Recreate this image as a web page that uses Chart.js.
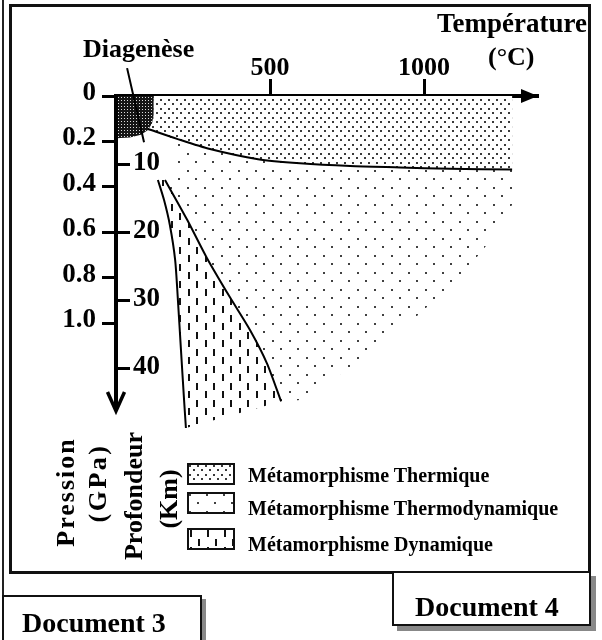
<!DOCTYPE html>
<html><head><meta charset="utf-8">
<script src="https://cdn.jsdelivr.net/npm/chart.js@4.4.1/dist/chart.umd.min.js"></script>
<style>
html,body{margin:0;padding:0;background:#fff;}
#wrap{position:relative;width:602px;height:640px;overflow:hidden;font-family:'Liberation Serif','Times New Roman',serif;font-weight:bold;color:#000;}
#c{position:absolute;left:0;top:0;}
.t{position:absolute;white-space:nowrap;line-height:1;}
.rot{position:absolute;white-space:nowrap;line-height:1;font-size:26px;transform:translate(-50%,-50%) rotate(-90deg);}
.box{position:absolute;box-sizing:border-box;}
canvas.sw{position:absolute;border:2px solid #111;}
</style></head>
<body><div id="wrap">
<canvas id="c" width="602" height="640"></canvas>
<div class="box" style="left:2px;top:0;width:2px;height:596px;background:#222;"></div>
<div class="box" style="left:9px;top:4px;width:582px;height:570px;border:3px solid #111;"></div>

<div class="t" style="left:83px;top:36px;font-size:26px;">Diagenèse</div>
<div class="t" style="left:437px;top:10px;font-size:27px;">Température</div>
<div class="t" style="left:488px;top:44px;font-size:26px;">(°C)</div>

<div class="rot" style="left:66px;top:492px;letter-spacing:2px;">Pression</div>
<div class="rot" style="left:98px;top:483px;letter-spacing:2.5px;">(GPa)</div>
<div class="rot" style="left:134px;top:496px;">Profondeur</div>
<div class="rot" style="left:169px;top:499px;">(Km)</div>

<canvas class="sw" width="44" height="18" style="left:187px;top:463px;"></canvas>
<canvas class="sw" width="44" height="18" style="left:187px;top:492px;"></canvas>
<canvas class="sw" width="44" height="18" style="left:187px;top:528px;"></canvas>
<div class="t lg" style="left:248px;top:465px;font-size:20px;"></div>
<div class="t lg" style="left:248px;top:498px;font-size:20px;"></div>
<div class="t lg" style="left:248px;top:534px;font-size:20px;"></div>

<div class="box" style="left:392px;top:571px;width:199px;height:55px;border:2px solid #111;background:#fff;box-shadow:5px 5px 0 #888;"></div>
<div class="t" style="left:415px;top:593px;font-size:28px;">Document 4</div>
<div class="box" style="left:2px;top:595px;width:200px;height:60px;border:2px solid #111;background:#fff;box-shadow:4px 4px 0 #888;"></div>
<div class="t" style="left:22px;top:609px;font-size:28px;">Document 3</div>
</div>
<script>
// ---- axis ticks ----
const temperatureTicks = [500, 1000];
const pressureTicks = [0, 0.2, 0.4, 0.6, 0.8, 1.0];
const depthTicks = [10, 20, 30, 40];
const legendLabels = ['Métamorphisme Thermique', 'Métamorphisme Thermodynamique', 'Métamorphisme Dynamique'];

// ---- regions: temperature (°C) / depth (km) ----
const diageneseT = [0, 122, 122, 117, 104, 81, 45, 0];
const diageneseD = [0, 0, 2.8, 4.0, 5.0, 5.7, 6.1, 6.2];

// boundary thermal / thermodynamic
const boundaryT = [104, 198, 305, 461, 597, 760, 922, 1084, 1286];
const boundaryD = [4.85, 6.3, 7.8, 9.3, 9.9, 10.3, 10.5, 10.7, 10.8];

// lower-right limit of thermodynamic field
const thermoLimitT = [1286, 1231, 1149, 1042, 981, 873, 760, 662, 597, 539];
const thermoLimitD = [16.0, 20.4, 24.9, 29.7, 32.2, 35.9, 39.9, 42.9, 44.7, 45.0];

// left limit of thermodynamic field (near depth 10)
const thermoEdgeT = [201, 192];
const thermoEdgeD = [10.9, 6.9];

// dynamic field limits
const dynLeftT = [136, 156, 175, 192, 201, 211, 221, 227];
const dynLeftD = [12.35, 15.3, 19.0, 24.1, 30.0, 37.4, 44.7, 48.8];
const dynRightT = [159, 231, 295, 370, 435, 490, 536];
const dynRightD = [12.35, 18.2, 23.8, 29.6, 34.4, 39.3, 44.9];

// thermal field top corners
const thermalTopT = [122, 1286];
const thermalTopD = [0, 0];

// pointer from the "Diagenèse" label
const pointerT = [36, 91];
const pointerD = [-4.1, 6.8];

const axisEndDepth = 46.3;

// ---- helpers ----
const pts = (T, D) => T.map((t, i) => ({x: t, y: D[i]}));
const rev = a => a.slice().reverse();

function makePattern(w, h, draw) {
  const c = document.createElement('canvas');
  c.width = w; c.height = h;
  const g = c.getContext('2d');
  g.fillStyle = '#fff'; g.fillRect(0, 0, w, h);
  draw(g);
  return g.createPattern(c, 'repeat');
}
const pThermal = makePattern(8, 9, g => { g.fillStyle = '#3a3a3a'; g.fillRect(0, 0, 2, 2); g.fillRect(4, 4, 2, 2); });
const pThermo = makePattern(17, 17, g => { g.fillStyle = '#404040'; g.fillRect(0, 0, 2, 2); g.fillRect(8, 8, 2, 2); });
const pDyn = makePattern(17, 17, g => { g.fillStyle = '#111'; g.fillRect(1, 0, 2, 7); g.fillRect(9, 9, 2, 7); });
const pDiag = makePattern(3, 3, g => { g.fillStyle = '#151515'; g.fillRect(0, 0, 3, 3); g.fillStyle = '#ddd'; g.fillRect(1, 1, 1, 1); });

document.querySelectorAll('canvas.sw').forEach((cv, i) => {
  const g = cv.getContext('2d');
  g.fillStyle = [pThermal, pThermo, pDyn][i];
  g.fillRect(0, 0, cv.width, cv.height);
});
document.querySelectorAll('.lg').forEach((el, i) => { el.textContent = legendLabels[i]; });

const thermalPoly = pts(thermalTopT, thermalTopD).concat(rev(pts(boundaryT, boundaryD)), [{x: 122, y: 3.5}]);
const thermoPoly = pts(boundaryT, boundaryD).concat(pts(thermoLimitT, thermoLimitD), rev(pts(dynRightT, dynRightD)), pts(thermoEdgeT, thermoEdgeD));
const dynPoly = pts(dynLeftT, dynLeftD).concat(rev(pts(dynRightT, dynRightD)));
const diagPoly = pts(diageneseT, diageneseD);

const NONE = 'rgba(0,0,0,0)';
const area = (label, data, bg, order, clip) => ({label, data, backgroundColor: bg, borderColor: NONE, borderWidth: 1, fill: 'shape', showLine: true, pointRadius: 0, tension: 0, order, clip: clip ? false : undefined});
const line = (label, data, order) => ({label, data, borderColor: '#000', borderWidth: 2, fill: false, showLine: true, pointRadius: 0, tension: 0.25, order, clip: false});

const FONT = {family: "'Liberation Serif','Times New Roman',serif", weight: 'bold'};

const axisArrows = {
  id: 'axisArrows',
  afterDraw(chart) {
    const {ctx, chartArea: a, scales} = chart;
    const x0 = scales.x.getPixelForValue(0);
    const y0 = scales.yD.getPixelForValue(0);
    const yEnd = scales.yD.getPixelForValue(axisEndDepth);
    ctx.save();
    ctx.strokeStyle = '#000'; ctx.fillStyle = '#000';
    ctx.lineWidth = 4;
    ctx.beginPath(); ctx.moveTo(x0, y0 - 2); ctx.lineTo(x0, yEnd); ctx.stroke();
    ctx.lineWidth = 3.5;
    ctx.beginPath(); ctx.moveTo(x0 - 8.5, yEnd - 19); ctx.lineTo(x0, yEnd); ctx.lineTo(x0 + 8.5, yEnd - 19); ctx.stroke();
    const xr = a.right;
    ctx.beginPath(); ctx.moveTo(xr, y0); ctx.lineTo(xr - 17, y0 - 7); ctx.lineTo(xr - 17, y0 + 7); ctx.closePath(); ctx.fill();
    ctx.restore();
  }
};

new Chart(document.getElementById('c'), {
  type: 'scatter',
  data: {
    datasets: [
      line('pointer', pts(pointerT, pointerD), 0),
      line('limite thermique', pts(boundaryT, boundaryD), 1),
      line('limite dynamique gauche', pts(dynLeftT, dynLeftD), 1),
      line('limite dynamique droite', pts(dynRightT, dynRightD), 1),
      area('Diagenèse', diagPoly, pDiag, 2),
      area(legendLabels[2], dynPoly, pDyn, 3, true),
      area(legendLabels[0], thermalPoly, pThermal, 4),
      area(legendLabels[1], thermoPoly, pThermo, 5)
    ].map(d => { if (d.clip === undefined) delete d.clip; d.yAxisID = 'yD'; return d; })
  },
  options: {
    responsive: false,
    animation: false,
    events: [],
    layout: {autoPadding: false, padding: {left: 0, top: 0, right: 64, bottom: 210}},
    plugins: {legend: {display: false}, tooltip: {enabled: false}},
    scales: {
      x: {
        type: 'linear', position: 'top', min: 0, max: 1370,
        afterBuildTicks: s => { s.ticks = temperatureTicks.map(v => ({value: v})); },
        afterFit: s => { s.height = 96; },
        ticks: {font: {...FONT, size: 26}, color: '#000', padding: -5, maxRotation: 0, autoSkip: false,
                callback: v => String(v)},
        grid: {drawOnChartArea: false, drawTicks: true, tickLength: 17, tickWidth: 3, tickColor: '#000'},
        border: {display: true, color: '#000', width: 4}
      },
      yP: {
        type: 'linear', position: 'left', reverse: true, min: 0, max: 1.471, weight: 1,
        afterBuildTicks: s => { s.ticks = pressureTicks.map(v => ({value: v})); },
        afterFit: s => { s.width = 116; },
        ticks: {font: {...FONT, size: 27}, color: '#000', padding: 6, labelOffset: -3, autoSkip: false,
                callback: v => v === 0 ? '0' : v.toFixed(1)},
        grid: {drawOnChartArea: false, drawTicks: true, tickLength: 14, tickWidth: 3, tickColor: '#000'},
        border: {display: false}
      },
      yD: {
        type: 'linear', position: 'left', reverse: true, min: 0, max: 49.1, weight: 0,
        afterBuildTicks: s => { s.ticks = depthTicks.map(v => ({value: v})); },
        afterFit: s => { s.width = 0; },
        ticks: {font: {...FONT, size: 27}, color: '#000', mirror: true, padding: 17, labelOffset: -1, autoSkip: false},
        grid: {drawOnChartArea: false, drawTicks: true, tickLength: -14, tickWidth: 3, tickColor: '#000'},
        border: {display: false}
      }
    }
  },
  plugins: [axisArrows]
});
</script>
</body></html>
